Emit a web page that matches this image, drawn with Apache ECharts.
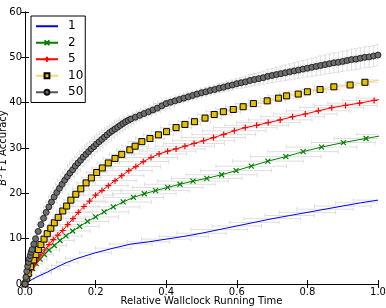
<!DOCTYPE html>
<html><head><meta charset="utf-8">
<script src="https://cdn.jsdelivr.net/npm/echarts@6/dist/echarts.min.js"></script>
<style>html,body{margin:0;padding:0;background:#fff}#c{width:386px;height:308px}</style>
</head><body><div id="c"></div>
<script>
// Tick values
const xTickInterval = 0.2;
const yTickInterval = 10;
const seriesNames = ['1', '2', '5', '10', '50'];

// Rows: [x, y, xErr, yErr]
const s1 = [[0,0,0],[0.02,1.0,0.005],[0.04,1.8,0.01],[0.06,2.5,0.015],[0.08,3.3,0.02],[0.1,4.1,0.025],[0.12,4.8,0.03],[0.15,5.7,0.035],[0.2,6.9,0.045],[0.25,7.9,0.05],[0.3,8.8,0.06],[0.35,9.3,0.06],[0.4,9.9,0.07],[0.45,10.5,0.07],[0.5,11.2,0.07],[0.55,12.0,0.08],[0.6,12.8,0.07],[0.65,13.6,0.07],[0.7,14.4,0.08],[0.75,15.1,0.07],[0.8,15.8,0.08],[0.85,16.5,0.08],[0.9,17.2,0.08],[0.95,17.9,0.07],[1.0,18.5,0.07]];

const s2 = [[0,0,0],[0.006,1.2,0.004],[0.013,2.3,0.008],[0.022,3.4,0.012],[0.032,4.5,0.016],[0.043,5.5,0.02],[0.055,6.5,0.025],[0.068,7.5,0.03],[0.083,8.5,0.035],[0.099,9.6,0.04],[0.116,10.6,0.045],[0.135,11.7,0.05],[0.155,12.7,0.055],[0.177,13.8,0.06],[0.2,14.8,0.065],[0.224,15.9,0.07],[0.25,17.0,0.075],[0.278,18.1,0.08],[0.307,19.1,0.085],[0.338,19.9,0.09],[0.37,20.6,0.095],[0.404,21.3,0.1],[0.439,22.0,0.1],[0.476,22.7,0.1],[0.515,23.3,0.1],[0.557,24.1,0.1],[0.598,25.0,0.1],[0.641,26.0,0.1],[0.688,27.1,0.1],[0.739,28.1,0.1],[0.788,29.2,0.1],[0.84,30.2,0.1],[0.902,31.2,0.09],[0.966,32.1,0.09],[1.03,33.0,0.09]];

const s5 = [[0,0,0],[0.005,1.0,0.003],[0.011,2.0,0.005],[0.018,3.1,0.007],[0.026,4.2,0.009],[0.035,5.3,0.011],[0.045,6.4,0.014],[0.056,7.5,0.017],[0.068,8.7,0.02],[0.08,9.8,0.023],[0.093,10.8,0.026],[0.107,11.8,0.03],[0.121,13.1,0.033],[0.136,14.4,0.036],[0.151,15.8,0.04],[0.167,17.1,0.043],[0.183,18.3,0.046],[0.2,19.6,0.05],[0.218,20.6,0.053],[0.236,21.7,0.056],[0.255,22.8,0.06],[0.274,23.9,0.063],[0.294,25.0,0.066],[0.314,25.9,0.07],[0.335,27.0,0.072],[0.357,27.9,0.075],[0.38,28.7,0.078],[0.404,29.3,0.08],[0.428,29.8,0.082],[0.453,30.4,0.084],[0.479,31.0,0.086],[0.506,31.6,0.088],[0.534,32.3,0.09],[0.563,33.0,0.09],[0.593,33.8,0.09],[0.624,34.5,0.09],[0.656,35.0,0.09],[0.689,35.6,0.09],[0.723,36.2,0.09],[0.758,36.9,0.09],[0.794,37.5,0.09],[0.831,38.2,0.09],[0.869,38.9,0.09],[0.908,39.4,0.09],[0.948,39.9,0.09],[0.989,40.5,0.09],[1.03,41.0,0.09]];

const s10 = [[0,0,0],[0.005,1.3,0.002],[0.009,2.3,0.003],[0.016,3.8,0.004],[0.024,5.3,0.005],[0.031,6.5,0.006],[0.038,7.6,0.007],[0.045,8.7,0.008],[0.054,9.9,0.01],[0.063,11.1,0.011],[0.073,12.3,0.012],[0.083,13.5,0.014],[0.094,14.7,0.015],[0.107,16.1,0.017],[0.118,17.2,0.018],[0.13,18.5,0.02],[0.144,19.8,0.022],[0.158,21.0,0.024],[0.173,22.3,0.026],[0.188,23.4,0.027],[0.203,24.6,0.029],[0.219,25.6,0.03],[0.236,26.7,0.032],[0.255,27.7,0.034],[0.274,28.6,0.035],[0.297,29.6,0.037],[0.312,30.4,0.038],[0.331,31.4,0.039],[0.354,32.1,0.041],[0.378,32.9,0.042],[0.401,33.6,0.043],[0.428,34.5,0.044],[0.453,35.2,0.045],[0.48,35.8,0.046],[0.51,36.6,0.047],[0.536,37.4,0.048],[0.562,38.0,0.049],[0.59,38.5,0.05],[0.618,39.1,0.05],[0.647,39.8,0.051],[0.686,40.4,0.052],[0.718,41.0,0.052],[0.741,41.5,0.053],[0.774,41.9,0.053],[0.8,42.4,0.054],[0.836,42.9,0.054],[0.875,43.5,0.055],[0.921,43.9,0.055],[0.963,44.5,0.056],[1.01,45.0,0.056]];

const s50 = [[0,0,0,0],[0.0025,1.5,0.002,0.1],[0.005,2.8,0.003,0.15],[0.0075,3.9,0.004,0.15],[0.01,4.8,0.005,0.2],[0.0125,5.6,0.005,0.2],[0.015,6.3,0.006,0.2],[0.0175,7.0,0.006,0.25],[0.02,7.6,0.007,0.25],[0.025,8.8,0.008,0.25],[0.03,10.0,0.009,0.25],[0.0375,11.6,0.01,0.3],[0.045,13.1,0.011,0.3],[0.0525,14.5,0.012,0.3],[0.06,15.8,0.013,0.3],[0.0675,17.0,0.014,0.35],[0.075,18.1,0.015,0.35],[0.0825,19.2,0.016,0.35],[0.09,20.2,0.017,0.35],[0.0975,21.1,0.018,0.35],[0.105,22.0,0.019,0.4],[0.1125,22.9,0.02,0.4],[0.12,23.7,0.02,0.4],[0.1275,24.5,0.021,0.4],[0.135,25.2,0.022,0.4],[0.1425,26.0,0.022,0.4],[0.15,26.7,0.023,0.4],[0.1575,27.3,0.024,0.45],[0.165,28.0,0.024,0.45],[0.1725,28.6,0.025,0.45],[0.18,29.2,0.025,0.45],[0.1875,29.8,0.026,0.45],[0.195,30.3,0.026,0.45],[0.2025,30.9,0.027,0.45],[0.21,31.4,0.027,0.45],[0.2175,31.9,0.028,0.5],[0.225,32.4,0.028,0.5],[0.2325,32.9,0.029,0.5],[0.24,33.4,0.029,0.5],[0.2475,33.8,0.03,0.5],[0.255,34.2,0.03,0.5],[0.2625,34.6,0.03,0.5],[0.27,35.0,0.031,0.5],[0.2775,35.4,0.031,0.5],[0.285,35.8,0.032,0.5],[0.2925,36.1,0.032,0.5],[0.3,36.4,0.033,0.5],[0.3125,36.8,0.033,0.5],[0.325,37.2,0.034,0.55],[0.3375,37.6,0.034,0.55],[0.35,38.0,0.035,0.6],[0.3625,38.4,0.035,0.6],[0.375,38.8,0.035,0.6],[0.3875,39.3,0.036,0.65],[0.4,39.8,0.036,0.65],[0.4125,40.1,0.036,0.7],[0.425,40.4,0.037,0.7],[0.4375,40.7,0.037,0.7],[0.45,41.0,0.037,0.75],[0.4625,41.3,0.038,0.75],[0.475,41.6,0.038,0.8],[0.4875,41.9,0.038,0.8],[0.5,42.2,0.039,0.85],[0.5125,42.4,0.039,0.9],[0.525,42.7,0.039,0.9],[0.5375,42.9,0.04,0.95],[0.55,43.2,0.04,1.0],[0.5625,43.4,0.04,1.0],[0.575,43.7,0.04,1.05],[0.5875,43.9,0.041,1.1],[0.6,44.2,0.041,1.1],[0.6125,44.4,0.041,1.2],[0.625,44.6,0.041,1.25],[0.6375,44.9,0.042,1.3],[0.65,45.1,0.042,1.35],[0.6625,45.3,0.042,1.4],[0.675,45.5,0.042,1.45],[0.6875,45.8,0.043,1.5],[0.7,46.0,0.043,1.55],[0.7125,46.2,0.043,1.6],[0.725,46.4,0.043,1.65],[0.7375,46.6,0.043,1.7],[0.75,46.8,0.044,1.75],[0.7625,47.0,0.044,1.8],[0.775,47.2,0.044,1.85],[0.7875,47.4,0.044,1.9],[0.8,47.6,0.044,1.95],[0.8125,47.8,0.045,2.0],[0.825,48.0,0.045,2.05],[0.8375,48.2,0.045,2.1],[0.85,48.4,0.045,2.1],[0.8625,48.6,0.045,2.15],[0.875,48.8,0.045,2.2],[0.8875,48.9,0.045,2.2],[0.9,49.1,0.045,2.25],[0.9125,49.3,0.045,2.25],[0.925,49.5,0.045,2.3],[0.9375,49.6,0.045,2.3],[0.95,49.8,0.045,2.3],[0.9625,50.0,0.045,2.3],[0.975,50.1,0.045,2.3],[0.9875,50.3,0.045,2.3],[1.0,50.5,0.045,2.3]];

const FONT = 'DejaVu Sans';
const ERR_COLOR = '#dedede';

function errRender(params, api) {
  const x = api.value(0), y = api.value(1), xe = api.value(2), ye = api.value(3);
  const ch = [];
  const st = { stroke: ERR_COLOR, lineWidth: 1, fill: null };
  const cap = 2;
  if (xe > 0) {
    const a = api.coord([x - xe, y]), b = api.coord([x + xe, y]);
    ch.push({ type: 'line', shape: { x1: a[0], y1: a[1], x2: b[0], y2: b[1] }, style: st });
    ch.push({ type: 'line', shape: { x1: a[0], y1: a[1] - cap, x2: a[0], y2: a[1] + cap }, style: st });
    ch.push({ type: 'line', shape: { x1: b[0], y1: b[1] - cap, x2: b[0], y2: b[1] + cap }, style: st });
  }
  if (ye > 0) {
    const a = api.coord([x, y - ye]), b = api.coord([x, y + ye]);
    ch.push({ type: 'line', shape: { x1: a[0], y1: a[1], x2: b[0], y2: b[1] }, style: st });
    ch.push({ type: 'line', shape: { x1: a[0] - cap, y1: a[1], x2: a[0] + cap, y2: a[1] }, style: st });
    ch.push({ type: 'line', shape: { x1: b[0] - cap, y1: b[1], x2: b[0] + cap, y2: b[1] }, style: st });
  }
  return { type: 'group', children: ch };
}

function errSeries(data, name) {
  return {
    type: 'custom', name: name, data: data, renderItem: errRender, clip: true, silent: true,
    dimensions: ['x', 'y', 'xe', 'ye'], encode: { x: 0, y: 1 }, z: 1, animation: false
  };
}

const X_SYM = 'path://M0,0L10,10M10,0L0,10';
const PLUS_SYM = 'path://M5,0L5,10M0,5L10,5';

const chart = echarts.init(document.getElementById('c'), null, { renderer: 'canvas' });
const axisCommon = {
  axisLine: { show: true, lineStyle: { color: '#000', width: 1 } },
  axisTick: { show: true, inside: true, length: 4, lineStyle: { color: '#000' } },
  splitLine: { show: false }
};
const legendData = seriesNames.map(n => n === '1' ? { name: n, itemStyle: { opacity: 0 } } : { name: n });
chart.setOption({
  animation: false,
  backgroundColor: '#fff',
  grid: { left: 25, right: 8, top: 12, bottom: 24, containLabel: false, outerBoundsMode: 'none' },
  legend: {
    data: legendData, orient: 'vertical', left: 31, top: 16,
    padding: [4, 2, 4, 4], itemGap: 4, itemWidth: 22, itemHeight: 6,
    borderColor: '#000', borderWidth: 1, backgroundColor: '#fff', borderRadius: 0,
    textStyle: { fontFamily: FONT, fontSize: 12, lineHeight: 12.5, color: '#000', padding: [0, 0, 0, 5] }
  },
  xAxis: [
    Object.assign({}, axisCommon, {
      type: 'value', min: 0, max: 1, interval: xTickInterval, position: 'bottom',
      name: 'Relative Wallclock Running Time', nameLocation: 'middle', nameGap: 12.5, nameMoveOverlap: false,
      nameTextStyle: { fontFamily: FONT, fontSize: 10, color: '#000' },
      axisLabel: { margin: 3, fontFamily: FONT, fontSize: 10, color: '#000', formatter: v => v.toFixed(1) }
    }),
    Object.assign({}, axisCommon, {
      type: 'value', min: 0, max: 1, interval: xTickInterval, position: 'top',
      axisLabel: { show: false }
    })
  ],
  yAxis: [
    Object.assign({}, axisCommon, {
      type: 'value', min: 0, max: 60, interval: yTickInterval, position: 'left',
      name: '{b|B}{s|3} F1 Accuracy', nameLocation: 'middle', nameGap: 16, nameRotate: 90, nameMoveOverlap: false,
      nameTextStyle: { fontFamily: FONT, fontSize: 10, color: '#000',
        rich: { b: { fontFamily: FONT, fontSize: 10, fontStyle: 'italic', color: '#000' },
                s: { fontFamily: FONT, fontSize: 7, color: '#000', padding: [0, 0, 5, 0] } } },
      axisLabel: { margin: 3, fontFamily: FONT, fontSize: 10, color: '#000' }
    }),
    Object.assign({}, axisCommon, {
      type: 'value', min: 0, max: 60, interval: yTickInterval, position: 'right',
      axisLabel: { show: false }
    })
  ],
  series: [
    errSeries(s1, 'e1'), errSeries(s2, 'e2'), errSeries(s5, 'e5'), errSeries(s10, 'e10'), errSeries(s50, 'e50'),
    { type: 'line', name: '1', data: s1, encode: { x: 0, y: 1 }, symbol: 'none', clip: true, z: 3,
      lineStyle: { color: '#0000ee', width: 1 }, itemStyle: { color: '#0000ee' } },
    { type: 'line', name: '2', data: s2, encode: { x: 0, y: 1 }, symbol: X_SYM, symbolSize: 5, showSymbol: true, clip: true, z: 4,
      lineStyle: { color: '#008000', width: 1 }, itemStyle: { color: '#008000', borderColor: '#008000', borderWidth: 1.2 } },
    { type: 'line', name: '5', data: s5, encode: { x: 0, y: 1 }, symbol: PLUS_SYM, symbolSize: 6, showSymbol: true, clip: true, z: 5,
      lineStyle: { color: '#ff0000', width: 1 }, itemStyle: { color: '#ff0000', borderColor: '#ff0000', borderWidth: 1.2 } },
    { type: 'line', name: '10', data: s10, encode: { x: 0, y: 1 }, symbol: 'rect', symbolSize: 6, showSymbol: true, clip: true, z: 6,
      lineStyle: { color: '#f2d96a', width: 1 }, itemStyle: { color: '#e8c000', borderColor: '#000', borderWidth: 1 } },
    { type: 'line', name: '50', data: s50, encode: { x: 0, y: 1 }, symbol: 'circle', symbolSize: 6, showSymbol: true, clip: true, z: 7,
      lineStyle: { color: '#555566', width: 1 }, itemStyle: { color: '#6e6e6e', borderColor: '#111', borderWidth: 0.8 } }
  ]
});
</script>
</body></html>
